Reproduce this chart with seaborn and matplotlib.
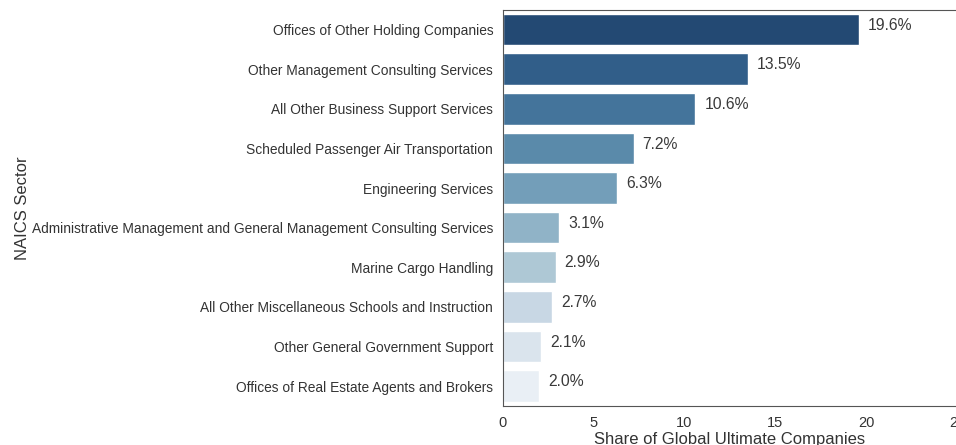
import matplotlib
matplotlib.use("Agg")
import matplotlib.pyplot as plt
import seaborn as sns
import pandas as pd

sectors = [
    "Offices of Other Holding Companies",
    "Other Management Consulting Services",
    "All Other Business Support Services",
    "Scheduled Passenger Air Transportation",
    "Engineering Services",
    "Administrative Management and General Management Consulting Services",
    "Marine Cargo Handling",
    "All Other Miscellaneous Schools and Instruction",
    "Other General Government Support",
    "Offices of Real Estate Agents and Brokers",
]
shares = [19.6, 13.5, 10.6, 7.2, 6.3, 3.1, 2.9, 2.7, 2.1, 2.0]

df = pd.DataFrame({"sector": sectors, "share": shares})

sns.set_style("white")
plt.rcParams["font.family"] = ["Liberation Sans", "DejaVu Sans"]

fig = plt.figure(figsize=(9.56, 4.45), dpi=100)
ax = fig.add_axes([0.526, 0.088, 0.475, 0.89])

sns.barplot(data=df, x="share", y="sector", hue="sector", palette="Blues_r",
            saturation=0.6, legend=False, ax=ax)

# percentage labels to the right of each bar
for i, v in enumerate(shares):
    ax.text(v + 0.5, i + 0.08, f"{v:.1f}%", va="bottom", ha="left",
            fontsize=11.3, color="#3a3a3a")

ax.set_xlim(0, 25)
ax.set_xticks([0, 5, 10, 15, 20, 25])
ax.tick_params(axis="y", labelsize=9.9, colors="#333333")
ax.tick_params(axis="x", labelsize=10.5, colors="#333333")
for s in ax.spines.values():
    s.set_color("#555555")
ax.set_xlabel("Share of Global Ultimate Companies", fontsize=12, color="#333333",
              labelpad=1.5)
ax.set_ylabel("NAICS Sector", fontsize=12, color="#333333", labelpad=1)

fig.savefig("out.png", dpi=100)
